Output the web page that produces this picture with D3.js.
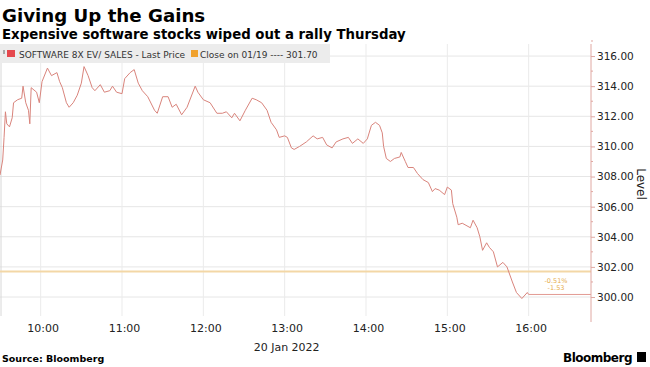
<!DOCTYPE html>
<html>
<head>
<meta charset="utf-8">
<script src="https://cdn.jsdelivr.net/npm/d3@7"></script>
<style>
  body { margin: 0; background: #fff; }
  svg { display: block; font-family: "DejaVu Sans", Verdana, sans-serif; }
</style>
</head>
<body>
<div id="chart"></div>
<script>
// Chart data
var times = ["09:30","09:32","09:33","09:34","09:35","09:37","09:39","09:40","09:43","09:46",
  "09:47","09:49","09:51","09:52","09:53","09:57","09:59","10:01","10:05","10:08",
  "10:12","10:14","10:16","10:19","10:21","10:24","10:27","10:30","10:32","10:35",
  "10:38","10:40","10:44","10:47","10:51","10:53","10:56","11:00","11:02","11:06",
  "11:09","11:12","11:15","11:19","11:24","11:26","11:30","11:34","11:37","11:40",
  "11:44","11:48","11:54","11:56","12:00","12:05","12:10","12:14","12:17","12:21",
  "12:23","12:27","12:31","12:36","12:39","12:43","12:47","12:50","12:54","12:56",
  "13:00","13:02","13:05","13:07","13:11","13:16","13:21","13:24","13:28","13:31",
  "13:35","13:38","13:43","13:47","13:50","13:54","13:58","14:01","14:04","14:07",
  "14:10","14:12","14:13","14:15","14:18","14:21","14:25","14:26","14:29","14:31",
  "14:35","14:38","14:42","14:46","14:49","14:51","14:54","14:58","15:00","15:03",
  "15:04","15:07","15:08","15:11","15:17","15:19","15:22","15:24","15:26","15:29",
  "15:31","15:34","15:37","15:41","15:44","15:48","15:51","15:55","15:59","16:00"];
var prices = [308.1,309.1,310.6,312.3,311.5,311.3,311.9,312.9,313.1,313.2,
  314.0,312.9,312.4,311.5,313.9,313.6,312.9,314.3,315.2,314.7,
  314.9,314.3,313.9,312.9,312.6,312.9,313.4,314.2,315.3,314.7,
  313.9,313.7,314.1,313.6,313.7,314.0,313.6,313.5,314.5,314.9,
  315.1,314.2,313.7,313.3,312.4,312.2,313.3,313.3,312.6,312.8,
  312.1,312.6,314.0,313.6,313.1,312.9,312.2,312.2,312.3,311.9,
  312.2,311.7,312.4,313.2,313.1,312.9,312.4,311.6,311.1,310.6,
  310.7,310.6,309.9,309.8,310.0,310.3,310.7,310.5,310.6,310.1,
  309.9,310.3,310.5,310.6,310.2,310.5,310.2,310.5,311.4,311.6,
  311.4,310.9,310.0,309.2,309.0,309.2,309.3,309.6,309.0,308.6,
  308.6,308.2,307.8,307.6,307.0,307.2,307.1,306.8,307.3,307.1,
  306.2,305.3,304.8,304.9,304.6,305.1,304.6,304.0,303.1,303.6,
  303.3,303.0,302.0,302.3,302.0,301.0,300.3,299.9,300.3,300.17];
var closeLevel = 301.70;
var changeLabels = ["-0.51%", "-1.53"];
var yTicks = [300, 302, 304, 306, 308, 310, 312, 314, 316];
var xTickTimes = ["10:00","11:00","12:00","13:00","14:00","15:00","16:00"];

var width = 650, height = 367;
var plot = {left: 0, right: 591, top: 44, bottom: 316};

var parse = d3.timeParse("%H:%M");
var data = times.map(function(t, i) { return {t: parse(t), v: prices[i]}; });

var x = d3.scaleTime()
  .domain([parse("09:30"), parse("16:46")])
  .range([plot.left, plot.right]);
var y = d3.scaleLinear()
  .domain([298.74, 316.8])
  .range([plot.bottom, plot.top]);

var svg = d3.select("#chart").append("svg")
  .attr("width", width)
  .attr("height", height);

// Title and subtitle
svg.append("text").attr("x", 2).attr("y", 22)
  .attr("font-size", 18.2).attr("font-weight", "bold").attr("fill", "#000")
  .text("Giving Up the Gains");
svg.append("text").attr("x", 2).attr("y", 38.5)
  .attr("font-size", 13.3).attr("font-weight", "bold").attr("fill", "#000")
  .text("Expensive software stocks wiped out a rally Thursday");

// Horizontal grid
svg.append("g").selectAll("line").data(yTicks).enter().append("line")
  .attr("x1", plot.left).attr("x2", plot.right)
  .attr("y1", function(d) { return y(d); }).attr("y2", function(d) { return y(d); })
  .attr("stroke", "#e6e6e6").attr("stroke-width", 1);

// Vertical grid
svg.append("g").selectAll("line").data(xTickTimes).enter().append("line")
  .attr("x1", function(d) { return x(parse(d)); }).attr("x2", function(d) { return x(parse(d)); })
  .attr("y1", plot.top).attr("y2", plot.bottom)
  .attr("stroke", "#ebebeb").attr("stroke-width", 1);

// Left border
svg.append("line").attr("x1", 1).attr("x2", 1)
  .attr("y1", plot.top).attr("y2", plot.bottom)
  .attr("stroke", "#d8d8d8");

// Close on 01/19 line
svg.append("line")
  .attr("x1", plot.left).attr("x2", plot.right)
  .attr("y1", y(closeLevel)).attr("y2", y(closeLevel))
  .attr("stroke", "#f3d7a6").attr("stroke-width", 2);

// Price line
var line = d3.line().x(function(d) { return x(d.t); }).y(function(d) { return y(d.v); });
svg.append("path").datum(data)
  .attr("d", line)
  .attr("fill", "none")
  .attr("stroke", "#d9847c")
  .attr("stroke-width", 1)
  .attr("stroke-linejoin", "round");

// Last price marker line
var last = data[data.length - 1];
svg.append("line")
  .attr("x1", x(last.t)).attr("x2", plot.right)
  .attr("y1", y(last.v)).attr("y2", y(last.v))
  .attr("stroke", "#e29a93").attr("stroke-width", 1);

// Change annotation
svg.append("g").selectAll("text").data(changeLabels).enter().append("text")
  .attr("x", 556).attr("y", function(d, i) { return y(last.v) - 11 + i * 7; })
  .attr("text-anchor", "middle").attr("font-size", 6.5).attr("fill", "#e6ad4e")
  .text(function(d) { return d; });

// Right axis
var yAxis = d3.axisRight(y).tickValues(yTicks).tickSize(4).tickPadding(2)
  .tickFormat(d3.format(".2f"));
var ya = svg.append("g").attr("transform", "translate(" + plot.right + ",0)").call(yAxis);
ya.select(".domain").remove();
ya.selectAll(".tick line").attr("stroke", "#e0a8a2");
ya.selectAll(".tick text").attr("font-size", 10.5).attr("fill", "#222")
  .attr("font-family", "DejaVu Sans, Verdana, sans-serif");
svg.append("line").attr("x1", plot.right).attr("x2", plot.right)
  .attr("y1", plot.top).attr("y2", 322)
  .attr("stroke", "#e0a8a2");
// minor ticks
svg.append("g").selectAll("line").data(yTicks.map(function(d) { return d + 1; })).enter().append("line")
  .attr("x1", plot.right).attr("x2", plot.right + 2)
  .attr("y1", function(d) { return y(d); }).attr("y2", function(d) { return y(d); })
  .attr("stroke", "#e0a8a2");

svg.append("text")
  .attr("transform", "translate(637,184) rotate(90)")
  .attr("text-anchor", "middle").attr("font-size", 12).attr("fill", "#222")
  .text("Level");

// Bottom axis labels
var xAxis = d3.axisBottom(x).tickValues(xTickTimes.map(parse)).tickSize(0).tickPadding(0)
  .tickFormat(d3.timeFormat("%H:%M"));
var xa = svg.append("g").attr("transform", "translate(2,324)").call(xAxis);
xa.select(".domain").remove();
xa.selectAll(".tick text").attr("font-size", 11).attr("fill", "#222")
  .attr("font-family", "DejaVu Sans, Verdana, sans-serif");

svg.append("text").attr("x", x(parse("13:00")) + 2).attr("y", 351)
  .attr("text-anchor", "middle").attr("font-size", 11).attr("fill", "#222")
  .text("20 Jan 2022");

// Legend
svg.append("rect").attr("x", 0).attr("y", 44).attr("width", 330).attr("height", 19)
  .attr("fill", "#ececec");
svg.append("rect").attr("x", 3).attr("y", 50).attr("width", 2).attr("height", 4).attr("fill", "#aaa");
svg.append("rect").attr("x", 7).attr("y", 50).attr("width", 8).attr("height", 7).attr("fill", "#e5484d");
svg.append("text").attr("x", 19).attr("y", 57.5).attr("font-size", 9).attr("fill", "#333")
  .text("SOFTWARE 8X EV/ SALES - Last Price");
svg.append("rect").attr("x", 191).attr("y", 50).attr("width", 7).attr("height", 7).attr("fill", "#f0a22e");
svg.append("text").attr("x", 200).attr("y", 57.5).attr("font-size", 9).attr("fill", "#333")
  .text("Close on 01/19 ---- 301.70");

// Footer
svg.append("text").attr("x", 2).attr("y", 362).attr("font-size", 9.5).attr("font-weight", "bold")
  .attr("fill", "#000").text("Source: Bloomberg");
svg.append("text").attr("x", 632).attr("y", 362).attr("text-anchor", "end")
  .attr("font-size", 12).attr("font-weight", "bold").attr("fill", "#000")
  .attr("letter-spacing", -0.5).text("Bloomberg");
svg.append("rect").attr("x", 637).attr("y", 352).attr("width", 9).attr("height", 10).attr("fill", "#000");
</script>
</body>
</html>
